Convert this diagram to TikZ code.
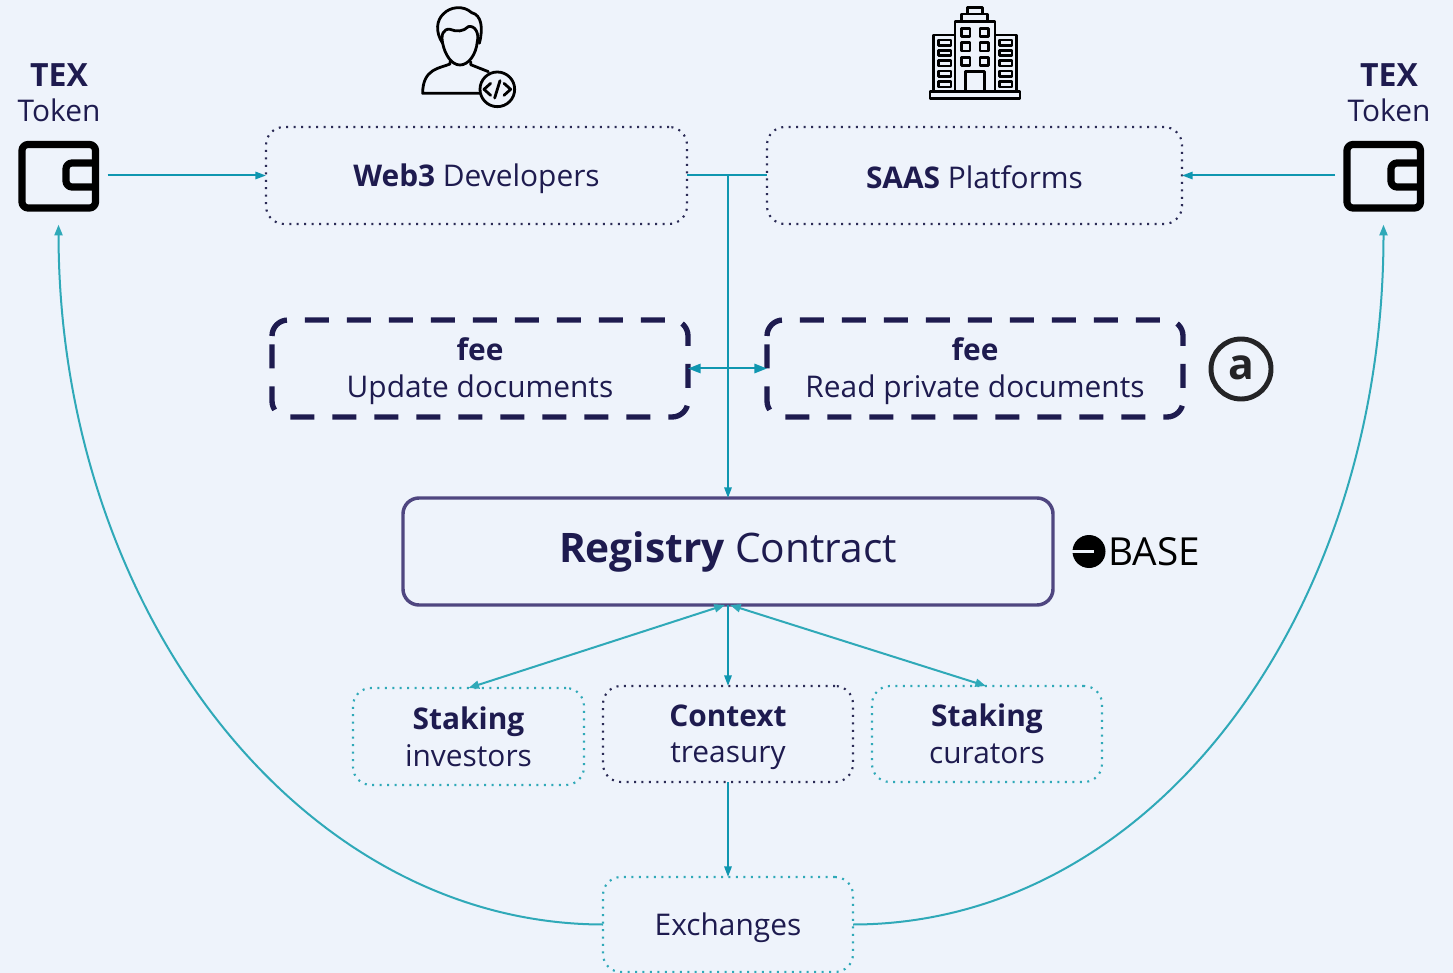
\documentclass[tikz,border=0pt]{standalone}
\usepackage{fontspec}
\setmainfont{Open Sans}
\usetikzlibrary{arrows.meta,calc}
\definecolor{bgc}{HTML}{EEF3FB}
\definecolor{ink}{HTML}{1E1B4F}
\definecolor{tealA}{HTML}{2FA9B8}
\definecolor{tealB}{HTML}{0F96B0}
\definecolor{regc}{HTML}{4F4680}
\definecolor{dotc}{HTML}{2A2A55}
\newcommand{\bx}[7]{\node[#6,minimum width={(#4-#2)*0.75pt},minimum height={(#5-#3)*0.75pt}] (#1) at ({(#2+#4)/2},{(#3+#5)/2}) {#7};}
\newcommand{\st}{\rule[-4pt]{0pt}{25pt}}
\newcommand{\sto}{\rule[-3pt]{0pt}{25pt}}
\newcommand{\walleticon}{%
  \draw[walletline,rounded corners=4.5pt] (95.5,163) -- (95.5,144.5) -- (22,144.5) -- (22,208) -- (95.5,208) -- (95.5,175) -- (95.5,163);
  \draw[walletline,rounded corners=4.5pt] (95.5,163) -- (66,163) -- (66,187) -- (95.5,187);}
\newcommand{\feeoutline}[1]{\draw[feeline] ($(#1.north west)+(0,16)$) -- (#1.north west) -- (#1.north east) -- (#1.south east) -- (#1.south west) -- ($(#1.north west)+(0,16)$);}
\begin{document}
\begin{tikzpicture}[x=0.75pt,y=-0.75pt,
  basebox/.style={draw,rounded corners=13.5pt,inner sep=0pt,outer sep=0pt,align=center,text=ink,font=\fontsize{22.4}{27.6}\selectfont},
  dotbox/.style={basebox,draw=dotc,line width=1.6pt,dash pattern=on 1.5pt off 4.1pt},
  tealbox/.style={basebox,draw=tealA,line width=1.6pt,dash pattern=on 1.5pt off 4.1pt},
  feebox/.style={basebox,draw=none},
  feeline/.style={draw=ink,line width=4pt,dash pattern=on 18pt off 13.5pt,rounded corners=12pt},
  regbox/.style={basebox,draw=regc,line width=2.6pt,rounded corners=12pt,font=\fontsize{30.5}{36}\selectfont},
  label/.style={inner sep=0pt,align=center,text=ink,font=\fontsize{22.4}{27.6}\selectfont},
  walletline/.style={draw=black,line width=5.4pt,line join=round},
  iconline/.style={draw=black,line width=2.1pt,line cap=round,line join=round},
  wire/.style={draw=tealB,line width=1.5pt,-{Triangle[length=8pt,width=5.5pt]}},
  wirebi/.style={wire,{Triangle[length=9.5pt,width=7pt]}-{Triangle[length=9.5pt,width=7pt]}},
  curve/.style={draw=tealA,line width=1.5pt,-{Triangle[length=8pt,width=6pt]}},
  curvebi/.style={curve,{Triangle[length=8pt,width=6pt]}-{Triangle[length=8pt,width=6pt]}}]
\fill[bgc] (0,0) rectangle (1453,973);
\useasboundingbox (0,0) rectangle (1453,973);
% boxes
\bx{web}{266}{127}{687}{224}{dotbox}{\sto\textbf{Web3} Developers}
\bx{saas}{767}{127}{1182}{224}{dotbox}{\sto\textbf{SAAS} Platforms}
\bx{feeL}{272}{320}{688}{417}{feebox}{\st\textbf{fee}\\\st Update documents}
\bx{feeR}{767}{320}{1183}{417}{feebox}{\st\textbf{fee}\\\st Read private documents}
\feeoutline{feeL}
\feeoutline{feeR}
\bx{reg}{403}{498}{1053}{605}{regbox}{\raisebox{1.2pt}{\textbf{Registry} Contract}}
\bx{inv}{353}{688}{584}{785}{tealbox}{\st\textbf{Staking}\\\st investors}
\bx{ctx}{603}{686}{853}{782}{dotbox}{\st\textbf{Context}\\\st treasury}
\bx{cur}{872}{686}{1102}{782}{tealbox}{\st\textbf{Staking}\\\st curators}
\bx{exc}{603}{877}{853}{972}{tealbox}{\sto Exchanges}
% token labels and wallets
\node[label] (texL) at (59,92.5) {\st{\fontsize{24}{27}\selectfont\textbf{TEX}}\\[-1pt]\st Token};
\node[label] (texR) at (1389,92.5) {\st{\fontsize{24}{27}\selectfont\textbf{TEX}}\\[-1pt]\st Token};
\bx{walL}{18}{141}{99}{212}{inner sep=0pt,outer sep=0pt}{}
\bx{walR}{1343}{141}{1424}{212}{inner sep=0pt,outer sep=0pt}{}
\walleticon
\begin{scope}[shift={(1325,0)}]\walleticon\end{scope}
% connectors
\draw[wire,shorten <=6.5pt] (walL.east |- web.west) -- (web.west);
\draw[wire,shorten <=6pt] (walR.west |- saas.east) -- (saas.east);
\draw[draw=tealB,line width=1.5pt] (web.east) -- (saas.west);
\coordinate (jn) at (web.east -| reg.north);
\draw[wire] (jn) -- (reg.north);
\draw[wirebi] (feeL.east) -- (feeR.west);
\coordinate (regL) at ($(reg.south)+(-3,0)$);
\coordinate (regR) at ($(reg.south)+(2,0)$);
\draw[curvebi] (regL) -- (inv.north);
\draw[wire] (reg.south) -- (ctx.north);
\draw[curvebi] (regR) -- ($(cur.north)+(-1,0)$);
\draw[wire] (ctx.south) -- (exc.north);
\draw[curve,shorten >=9.5pt] (exc.west) .. controls (300,924) and (59,610) .. (walL.south);
\draw[curve,shorten >=9.5pt] (exc.east) .. controls (1156,924) and (1383.5,610) .. (walR.south);
% developer icon
\begin{scope}[shift={(400,0)},x=0.25pt,y=-0.25pt]
\draw[iconline] (128,130) .. controls (105,95) and (110,60) .. (130,42) .. controls (150,20) and (190,15) .. (215,38) .. controls (245,45) and (250,85) .. (238,130);
\draw[iconline] (128,130) .. controls (122,105) and (130,85) .. (150,88) .. controls (170,96) and (190,95) .. (205,80) .. controls (225,75) and (238,100) .. (232,125) .. controls (228,165) and (205,195) .. (180,195) .. controls (155,195) and (135,165) .. (128,130);
\draw[iconline] (150,185) -- (150,192) .. controls (120,205) and (68,205) .. (68,280) -- (240,280);
\draw[iconline] (212,185) -- (212,194) -- (265,215);
\draw[iconline,fill=bgc] (292,268) circle[radius=52];
\draw[iconline] (272,250) -- (252,268) -- (272,286) (312,250) -- (332,268) -- (312,286) (300,242) -- (284,294);
\end{scope}
% building icon
\begin{scope}[shift={(915,0)},x=0.25pt,y=-0.25pt]
\draw[iconline,line cap=butt] (120,65) rectangle (240,275) (140,42) rectangle (218,65) (158,22) rectangle (203,42) (55,105) rectangle (120,275) (240,105) rectangle (305,275) (45,275) rectangle (315,295) (152,215) rectangle (208,275);
\foreach \yy in {85,128,172}{
  \draw[iconline,line cap=butt] (140,\yy) rectangle ++(25,25) (195,\yy) rectangle ++(25,25);}
\foreach \yy in {120,151,182,213,245}{
  \draw[iconline,line cap=butt] (70,\yy) rectangle ++(38,16) (253,\yy) rectangle ++(38,16);}
\end{scope}
% arweave mark
\node[draw=black!85!bgc,line width=3.7pt,circle,minimum size=45pt,inner sep=0pt,font=\fontsize{32}{32}\selectfont\bfseries,text=black!85!bgc] (ar) at (1241,369) {\raisebox{2pt}{a}};
% base mark
\fill[black] (1089,551.5) circle[radius=16.5];
\fill[bgc] (1072,550.2) rectangle (1094,552.8);
\node[inner sep=0pt,anchor=west,font=\fontsize{29}{30}\selectfont] (base) at (1108,552) {BASE};
\end{tikzpicture}
\end{document}
